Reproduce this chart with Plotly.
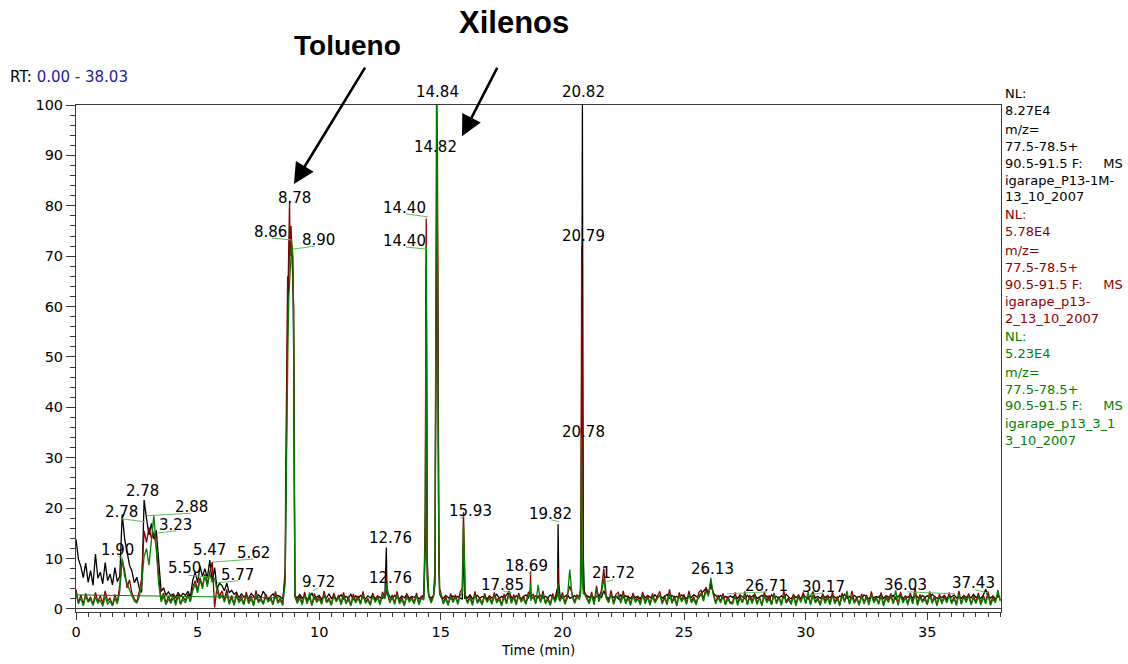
import plotly.graph_objects as go

# ---------------- data ----------------
# retention-time sampling grid (min), 0.1 min steps from 0.0 to 38.0
RT_BASE = [round(i * 0.1, 1) for i in range(381)]

BLACK_BASE = [
    13.8, 9.9, 8.4, 6.2, 9.1, 5.3, 7.6, 4.7, 10.9, 6.1,
    7.3, 5.0, 9.2, 5.6, 6.9, 4.8, 8.2, 5.4, 6.5, 18.8,
    13.9, 11.2, 8.7, 7.5, 5.2, 6.3, 4.1, 3.3, 21.6, 17.9,
    14.7, 17.0, 13.9, 15.6, 9.1, 3.5, 4.2, 2.7, 3.4, 2.6,
    3.0, 2.3, 3.2, 2.5, 3.1, 2.7, 3.5, 2.4, 5.7, 7.3,
    5.2, 8.5, 6.4, 8.0, 6.1, 9.7, 5.3, 8.2, 4.0, 5.1,
    4.7, 3.6, 5.1, 3.2, 3.7, 2.9, 3.3, 2.2, 3.0, 2.4,
    2.7, 2.1, 3.1, 2.5, 2.0, 2.8, 2.3, 3.5, 2.6, 1.9,
    2.5, 3.0, 2.2, 2.7, 2.4, 2.0, 6.0, 55.0, 72.0, 70.0,
    2.5, 2.2, 2.9, 2.1, 2.6, 1.8, 2.4, 3.1, 2.0, 2.3,
    2.7, 1.9, 2.5, 2.2, 3.0, 2.1, 2.6, 1.8, 2.4, 2.8,
    2.0, 2.5, 2.2, 2.9, 1.9, 2.6, 2.1, 2.7, 2.3, 2.0,
    2.6, 2.2, 2.8, 2.0, 2.5, 2.3, 2.1, 2.6, 3.5, 2.4,
    2.1, 2.7, 2.3, 2.0, 2.6, 2.2, 2.9, 2.1, 2.5, 2.3,
    2.6, 2.0, 2.4, 2.8, 68.0, 2.5, 2.2, 2.6, 60.0, 20.0,
    2.4, 2.1, 2.7, 2.3, 2.0, 2.6, 2.2, 2.5, 2.1, 5.0,
    2.5, 2.2, 2.8, 2.0, 2.4, 2.7, 2.1, 2.5, 2.3, 2.0,
    2.6, 2.2, 2.4, 2.9, 2.1, 2.5, 2.2, 2.7, 3.4, 2.3,
    2.1, 2.6, 2.3, 2.0, 2.5, 2.8, 2.2, 2.4, 2.1, 2.6,
    2.3, 2.7, 2.1, 2.5, 2.2, 2.8, 2.4, 2.0, 3.0, 2.6,
    2.2, 2.5, 2.9, 2.1, 2.4, 2.6, 2.3, 2.5, 80.0, 3.0,
    2.6, 2.3, 2.8, 2.1, 2.5, 2.9, 2.2, 3.6, 2.4, 2.1,
    2.7, 2.3, 2.5, 2.0, 2.8, 2.2, 2.6, 2.4, 2.1, 2.7,
    2.3, 2.5, 2.0, 2.9, 2.2, 2.6, 2.4, 2.1, 2.8, 2.3,
    2.6, 2.2, 2.4, 2.9, 2.1, 2.7, 2.3, 2.5, 2.2, 2.8,
    2.4, 2.1, 2.6, 2.3, 2.8, 2.5, 2.2, 3.0, 3.6, 4.1,
    2.8, 5.3, 3.1, 2.6, 2.3, 2.7, 2.1, 2.5, 2.2, 2.6,
    2.3, 2.6, 2.1, 2.8, 2.4, 2.0, 2.7, 2.2, 2.5, 2.9,
    2.1, 2.4, 2.7, 2.2, 2.6, 2.0, 2.8, 2.3, 2.5, 2.1,
    2.6, 2.2, 2.9, 2.4, 2.0, 2.7, 2.3, 2.5, 2.1, 2.8,
    2.4, 2.0, 2.6, 3.3, 2.2, 2.5, 2.1, 2.7, 2.3, 2.6,
    2.2, 2.8, 2.4, 2.0, 2.6, 2.3, 2.9, 2.1, 2.5, 2.2,
    2.7, 2.3, 2.5, 2.1, 2.8, 2.4, 2.0, 2.6, 2.2, 2.5,
    2.3, 2.9, 2.1, 2.6, 2.4, 2.2, 2.7, 2.0, 2.5, 2.8,
    2.1, 2.5, 2.3, 2.8, 2.2, 2.6, 2.4, 2.0, 2.7, 2.3,
    2.6, 2.2, 2.9, 2.4, 2.1, 2.5, 2.3, 2.7, 2.0, 2.6,
    2.4, 2.8, 2.2, 2.5, 2.1, 2.7, 2.3, 2.6, 2.2, 2.9,
    2.3, 2.5, 2.1, 2.7, 3.9, 2.4, 2.2, 2.6, 2.0, 2.5,
    2.4,
]

RED_BASE = [
    3.9, 1.2, 2.8, 0.9, 3.1, 1.6, 2.4, 0.8, 3.3, 1.4,
    2.7, 1.0, 3.6, 1.5, 2.2, 0.7, 2.9, 1.3, 4.8, 9.8,
    7.6, 4.2, 5.8, 3.1, 2.0, 1.4, 3.5, 6.0, 15.5, 13.2,
    16.2, 14.0, 15.1, 12.3, 6.5, 1.8, 3.2, 1.1, 2.6, 1.5,
    2.9, 1.2, 3.3, 0.9, 2.4, 1.7, 3.0, 1.4, 4.3, 5.6,
    3.8, 6.2, 4.5, 6.9, 5.1, 7.4, 9.3, 0.3, 4.6, 2.5,
    3.6, 1.8, 3.9, 1.2, 2.7, 0.9, 3.2, 1.6, 2.5, 1.0,
    3.4, 1.3, 2.6, 0.8, 3.7, 1.5, 2.2, 1.1, 3.0, 1.7,
    2.4, 1.0, 3.5, 1.4, 2.1, 0.9, 8.0, 66.0, 70.0, 71.0,
    3.0, 1.5, 2.7, 1.0, 3.4, 1.2, 2.3, 0.8, 3.1, 1.6,
    2.5, 1.1, 3.6, 1.4, 2.2, 0.9, 3.2, 1.7, 2.8, 1.0,
    3.3, 1.2, 2.4, 0.8, 3.0, 1.5, 2.6, 1.1, 3.5, 1.3,
    2.1, 0.9, 3.2, 1.6, 2.7, 1.0, 3.4, 2.2, 3.0, 1.4,
    2.8, 1.1, 3.5, 1.3, 2.3, 0.8, 3.1, 1.7, 2.5, 1.2,
    3.2, 1.0, 2.6, 2.0, 77.5, 3.0, 1.5, 2.9, 70.0, 30.0,
    3.3, 1.2, 2.5, 0.9, 3.1, 1.6, 2.8, 1.1, 3.4, 8.0,
    3.0, 1.3, 2.7, 0.9, 3.5, 1.4, 2.2, 1.0, 3.1, 1.6,
    2.6, 1.1, 3.3, 1.5, 2.4, 0.8, 3.0, 1.2, 3.6, 1.4,
    2.9, 1.0, 3.2, 1.7, 2.5, 1.1, 3.4, 2.0, 3.0, 1.3,
    2.7, 1.5, 3.6, 1.2, 2.3, 0.9, 3.1, 1.6, 3.5, 1.8,
    3.3, 1.1, 2.6, 4.5, 3.0, 1.4, 2.8, 2.4, 60.0, 3.5,
    2.5, 1.3, 3.4, 1.0, 4.6, 1.7, 3.8, 8.0, 2.6, 1.5,
    3.7, 1.1, 2.9, 3.3, 1.4, 3.6, 1.2, 2.7, 0.9, 3.2,
    1.6, 2.5, 1.0, 3.4, 1.3, 2.8, 0.9, 3.1, 1.5, 2.4,
    3.5, 1.2, 2.7, 1.0, 3.9, 1.4, 2.6, 0.8, 3.3, 1.7,
    2.9, 1.1, 3.6, 1.5, 2.4, 1.0, 3.2, 3.8, 1.9, 4.3,
    3.2, 4.4, 3.4, 1.2, 2.8, 1.5, 3.1, 1.0, 2.5, 1.3,
    1.4, 3.3, 1.0, 2.6, 1.2, 3.5, 0.9, 2.8, 1.5, 3.1,
    1.1, 2.4, 0.8, 3.4, 1.6, 2.7, 1.0, 3.2, 1.3, 2.5,
    0.9, 3.6, 1.4, 2.3, 1.1, 3.0, 0.8, 2.9, 1.7, 3.3,
    1.2, 2.6, 1.0, 3.5, 1.4, 2.2, 0.9, 3.1, 1.5, 2.8,
    1.0, 3.4, 1.3, 2.5, 0.8, 3.2, 1.6, 2.7, 1.1, 3.6,
    1.4, 2.3, 0.9, 3.0, 1.2, 2.8, 1.0, 3.5, 1.5, 2.4,
    1.1, 3.3, 0.8, 2.6, 1.7, 3.1, 1.2, 2.5, 0.9, 3.4,
    1.5, 2.7, 1.0, 3.2, 1.3, 4.2, 0.9, 2.9, 1.6, 2.3,
    1.0, 3.5, 1.4, 2.6, 0.8, 3.0, 1.2, 2.8, 1.5, 3.3,
    1.3, 2.4, 0.9, 3.6, 1.1, 2.7, 1.6, 3.1, 1.0, 2.5,
    1.4, 3.2, 1.0, 2.8, 1.3, 3.5, 0.9, 2.6, 1.5, 3.0,
    1.8,
]

GREEN_BASE = [
    2.9, 1.0, 2.2, 0.6, 2.6, 1.3, 1.9, 0.7, 2.4, 1.1,
    1.8, 0.5, 2.5, 0.9, 1.6, 0.6, 2.1, 1.0, 3.5, 10.0,
    6.5, 5.0, 3.8, 2.6, 1.5, 1.2, 2.4, 4.8, 10.5, 12.0,
    8.7, 13.5, 18.6, 11.8, 5.0, 1.4, 2.5, 0.8, 2.0, 1.1,
    2.3, 0.7, 2.6, 1.0, 1.9, 1.2, 2.7, 1.5, 3.6, 4.9,
    3.2, 5.8, 4.0, 6.8, 4.4, 7.0, 5.5, 6.1, 3.5, 2.0,
    2.8, 1.3, 3.0, 0.9, 2.2, 0.7, 2.6, 1.2, 2.0, 0.8,
    2.7, 1.0, 2.1, 0.6, 2.9, 1.2, 1.8, 0.9, 2.4, 1.4,
    1.9, 0.8, 2.8, 1.1, 1.7, 0.7, 5.0, 50.0, 66.0, 72.0,
    2.4, 1.1, 2.2, 0.8, 2.7, 1.0, 3.3, 0.6, 2.5, 1.3,
    2.0, 0.9, 2.9, 1.2, 1.8, 0.7, 2.6, 1.4, 2.3, 0.8,
    2.7, 1.0, 1.9, 0.6, 2.4, 1.2, 2.1, 0.9, 2.8, 1.1,
    1.7, 0.7, 2.6, 1.3, 2.2, 0.8, 2.8, 2.0, 4.2, 1.2,
    2.3, 0.9, 2.8, 1.0, 1.9, 0.6, 2.5, 1.4, 2.0, 1.0,
    2.6, 0.8, 2.1, 1.8, 72.0, 2.6, 1.2, 2.4, 80.0, 22.0,
    2.7, 1.0, 2.0, 0.7, 2.5, 1.3, 2.3, 0.9, 2.8, 7.0,
    2.4, 1.1, 2.2, 0.7, 2.9, 1.1, 1.8, 0.8, 2.5, 1.3,
    2.1, 0.9, 2.7, 1.2, 1.9, 0.6, 2.4, 1.0, 2.9, 1.1,
    2.3, 0.8, 2.6, 1.4, 2.0, 0.9, 2.8, 1.6, 2.4, 1.0,
    4.8, 1.2, 2.9, 1.0, 1.8, 0.7, 2.5, 1.3, 2.6, 1.5,
    2.7, 0.9, 2.1, 7.8, 2.4, 1.1, 2.3, 1.9, 18.0, 3.0,
    2.0, 1.0, 2.8, 0.8, 3.9, 1.4, 3.1, 6.0, 2.1, 1.2,
    3.0, 0.9, 2.3, 2.7, 1.1, 2.9, 1.0, 2.2, 0.7, 2.6,
    1.3, 2.0, 0.8, 2.8, 1.0, 2.3, 0.7, 2.5, 1.2, 1.9,
    2.8, 1.0, 2.2, 0.8, 3.2, 1.1, 2.1, 0.6, 2.7, 1.4,
    2.3, 0.9, 2.9, 1.2, 1.9, 0.8, 2.6, 3.1, 1.5, 3.6,
    2.5, 6.2, 2.8, 1.0, 2.3, 1.2, 2.5, 0.8, 2.0, 1.1,
    1.0, 2.6, 0.7, 2.1, 1.3, 2.8, 0.8, 2.3, 1.1, 2.5,
    0.9, 2.2, 0.6, 2.7, 1.2, 2.0, 0.8, 2.9, 1.0, 2.3,
    0.7, 2.8, 1.1, 1.9, 0.9, 2.5, 0.6, 2.4, 1.3, 2.7,
    1.0, 3.4, 0.8, 2.6, 1.2, 1.9, 0.7, 2.5, 1.1, 2.2,
    0.8, 2.7, 1.0, 2.0, 0.6, 2.6, 1.3, 3.6, 0.9, 2.4,
    1.1, 2.0, 0.7, 2.5, 1.0, 2.3, 0.8, 2.8, 1.2, 2.1,
    0.9, 2.6, 0.6, 2.2, 1.3, 2.5, 1.0, 3.7, 0.7, 2.7,
    1.2, 2.3, 0.8, 2.6, 1.0, 3.0, 0.7, 2.4, 1.3, 2.0,
    0.8, 2.8, 1.1, 2.2, 0.6, 2.5, 1.0, 2.3, 1.2, 2.7,
    1.0, 2.1, 0.7, 2.9, 0.9, 2.4, 1.3, 2.6, 0.8, 2.2,
    1.1, 2.5, 0.8, 2.3, 1.0, 2.8, 0.7, 2.1, 1.2, 3.8,
    1.5,
]

# extra samples across the sharp peaks (min)
FINE_RT = [8.62, 8.65, 8.68, 8.72, 8.75, 8.78, 8.82, 8.84, 8.86, 8.88, 8.92, 8.95, 8.98,
           12.74, 12.76, 12.78,
           14.36, 14.38, 14.42, 14.44,
           14.76, 14.78, 14.82, 14.84, 14.86, 14.88, 14.92, 14.95,
           15.88, 15.91, 15.93, 15.95, 15.98,
           18.67, 18.69, 18.72,
           19.78, 19.82, 19.85,
           20.74, 20.77, 20.78, 20.79, 20.81, 20.82, 20.84, 20.86]

BLACK_FINE = [20, 38, 48, 62, 70, 74, 75, 73, 70, 72, 66, 50, 20,
              9, 12.2, 4,
              12, 45, 35, 6,
              5, 30, 82, 85, 75, 45, 8, 3,
              2, 9, 12, 9, 2,
              3, 4, 2.5,
              4, 16.8, 5,
              3, 8, 20, 45, 95, 100, 50, 10]

RED_FINE = [25, 45, 55, 64, 72, 81, 74, 76, 73, 70, 68, 60, 25,
            3, 6.5, 3,
            20, 55, 45, 10,
            8, 35, 95, 100, 90, 55, 12, 4,
            4, 14, 19.2, 15, 4,
            3, 7.5, 2.5,
            3, 8.2, 2.5,
            4, 25, 50, 72, 40, 25, 8, 4]

GREEN_FINE = [15, 30, 42, 55, 62, 64, 68, 70, 73, 71, 70, 55, 18,
              3, 5, 4,
              15, 50, 40, 8,
              6, 40, 100, 96, 80, 45, 8, 3,
              3, 12, 17, 13, 3,
              2.5, 5.2, 2,
              2.5, 5.0, 2,
              3, 15, 34, 28, 10, 6, 4, 3]

# green trace baseline segment drawn by the software (RT, abundance pairs)
GREEN_BASELINE_X = [0.0, 8.55]
GREEN_BASELINE_Y = [2.8, 2.2]

# peak labels: text, RT position, relative-abundance position
PEAK_TEXT = ["8.78", "8.86", "8.90", "14.40", "14.40", "14.84", "14.82", "20.82", "20.79", "20.78",
             "2.78", "2.78", "2.88", "3.23", "1.90", "5.47", "5.62", "5.50", "5.77", "9.72",
             "12.76", "12.76", "15.93", "17.85", "18.69", "19.82", "21.72", "26.13", "26.71",
             "30.17", "36.03", "37.43"]
PEAK_X = [9.00, 7.98, 9.99, 13.49, 13.49, 14.88, 14.80, 20.85, 20.85, 20.85,
          2.75, 1.85, 4.73, 4.11, 1.69, 5.47, 7.28, 4.48, 6.66, 9.95,
          12.91, 12.91, 16.20, 17.52, 18.54, 19.49, 22.08, 26.15, 28.37,
          30.72, 34.09, 36.88]
PEAK_Y = [81.5, 74.8, 73.2, 79.6, 73.0, 102.6, 91.7, 102.6, 74.0, 35.1,
          23.4, 19.2, 20.2, 16.7, 11.7, 11.7, 11.1, 8.1, 6.7, 5.4,
          14.1, 6.2, 19.4, 4.8, 8.5, 18.8, 7.1, 7.9, 4.6,
          4.4, 4.8, 5.2]

# green leader ticks (x0, y0, x1, y1)
LEADERS = [(8.06, 73.6, 8.92, 73.2), (8.92, 71.4, 9.83, 72.0),
           (13.57, 78.4, 14.47, 77.8), (13.57, 71.8, 14.43, 71.4),
           (1.89, 17.9, 2.80, 17.3), (2.92, 18.5, 4.73, 19.0), (3.37, 15.1, 4.11, 15.5),
           (1.73, 10.5, 1.93, 10.1), (5.63, 9.3, 7.28, 9.9), (4.61, 6.7, 5.51, 6.3),
           (5.80, 5.2, 6.66, 5.6), (9.75, 3.6, 9.95, 4.2), (26.77, 3.0, 28.41, 3.4),
           (30.18, 2.8, 30.72, 3.2), (34.17, 3.4, 36.14, 3.0), (36.97, 3.8, 37.50, 3.2),
           (17.56, 3.6, 17.93, 3.2), (19.53, 17.7, 19.86, 17.3), (21.83, 5.4, 22.08, 5.8),
           (15.80, 18.0, 15.97, 18.4), (18.60, 7.2, 18.72, 6.8)]

INFO_BLACK = ["NL:", "8.27E4", "m/z=", "77.5-78.5+", "90.5-91.5 F:&nbsp;&nbsp;&nbsp;&nbsp;&nbsp;MS",
              "igarape_P13-1M-", "13_10_2007"]
INFO_RED = ["NL:", "5.78E4", "m/z=", "77.5-78.5+", "90.5-91.5 F:&nbsp;&nbsp;&nbsp;&nbsp;&nbsp;MS",
            "igarape_p13-", "2_13_10_2007"]
INFO_GREEN = ["NL:", "5.23E4", "m/z=", "77.5-78.5+", "90.5-91.5 F:&nbsp;&nbsp;&nbsp;&nbsp;&nbsp;MS",
              "igarape_p13_3_1", "3_10_2007"]

C_BLACK = "#000000"
C_RED = "#8b0000"
C_GREEN = "#008000"
FONT = "DejaVu Sans"
Y_MIN, Y_MAX = -0.6, 100


def build(base, fine):
    pts = sorted(zip(RT_BASE + FINE_RT, base + fine))
    return [p[0] for p in pts], [p[1] for p in pts]


fig = go.Figure()
for base, fine, col in [(BLACK_BASE, BLACK_FINE, C_BLACK),
                        (RED_BASE, RED_FINE, C_RED),
                        (GREEN_BASE, GREEN_FINE, C_GREEN)]:
    xs, ys = build(base, fine)
    fig.add_trace(go.Scatter(x=xs, y=ys, mode="lines",
                             line=dict(color=col, width=1.3),
                             hoverinfo="skip", showlegend=False))
fig.add_trace(go.Scatter(x=GREEN_BASELINE_X, y=GREEN_BASELINE_Y, mode="lines",
                         line=dict(color=C_GREEN, width=1), hoverinfo="skip", showlegend=False))

shapes = []
for (x0, y0, x1, y1) in LEADERS:
    shapes.append(dict(type="line", xref="x", yref="y", x0=x0, y0=y0, x1=x1, y1=y1,
                       line=dict(color="#5cbf5c", width=1)))

ann = []
for t, x, y in zip(PEAK_TEXT, PEAK_X, PEAK_Y):
    if y > Y_MAX:
        yref, yy = "paper", (y - Y_MIN) / (Y_MAX - Y_MIN)
    else:
        yref, yy = "y", y
    ann.append(dict(x=x, y=yy, xref="x", yref=yref, text=t, showarrow=False,
                    font=dict(family=FONT, size=15, color="black"),
                    xanchor="center", yanchor="middle"))

# header and compound labels
ann.append(dict(x=-0.0735, y=1.055, xref="paper", yref="paper", xanchor="left", yanchor="middle",
                text="RT: <span style='color:#1c1ca8'>0.00 - 38.03</span>", showarrow=False,
                font=dict(family=FONT, size=15, color="black")))
ann.append(dict(x=0.294, y=1.118, xref="paper", yref="paper", text="<b>Tolueno</b>", showarrow=False,
                font=dict(family="Liberation Sans", size=28, color="black"),
                xanchor="center", yanchor="middle"))
ann.append(dict(x=0.4735, y=1.163, xref="paper", yref="paper", text="<b>Xilenos</b>", showarrow=False,
                font=dict(family="Liberation Sans", size=31, color="black"),
                xanchor="center", yanchor="middle"))
ann.append(dict(x=8.96, y=84.3, xref="x", yref="y", text="", showarrow=True,
                ax=72, ay=-118, arrowhead=2, arrowsize=1.6, arrowwidth=2.6, arrowcolor="black"))
ann.append(dict(x=15.87, y=93.8, xref="x", yref="y", text="", showarrow=True,
                ax=36, ay=-70, arrowhead=2, arrowsize=1.6, arrowwidth=2.6, arrowcolor="black"))
ann.append(dict(x=0.4995, y=-0.075, xref="paper", yref="paper", text="Time (min)",
                showarrow=False, font=dict(family=FONT, size=13.5, color="black"),
                xanchor="center", yanchor="middle"))

# right-hand trace information
INFO_Y = [[93, 110, 129, 146, 163, 180, 196],
          [214, 231, 250, 267, 284, 301, 318],
          [336, 353, 372, 389, 406, 423, 440]]
for lines, ys, col in [(INFO_BLACK, INFO_Y[0], C_BLACK),
                       (INFO_RED, INFO_Y[1], C_RED),
                       (INFO_GREEN, INFO_Y[2], C_GREEN)]:
    for txt, py in zip(lines, ys):
        ann.append(dict(x=(1003 - 76) / 925, y=(612 - py) / 507, xref="paper", yref="paper",
                        text=txt, showarrow=False, xanchor="left", yanchor="middle",
                        font=dict(family=FONT, size=13, color=col)))

axis_col = "#3a3a3a"
fig.update_layout(
    width=1128, height=664,
    margin=dict(l=76, r=127, t=105, b=52),
    paper_bgcolor="white", plot_bgcolor="white",
    showlegend=False,
    shapes=shapes,
    annotations=ann,
    xaxis=dict(range=[0, 38.03], tickmode="linear", tick0=0, dtick=5,
               ticks="outside", ticklen=7, tickcolor=axis_col, tickwidth=1,
               showline=True, linecolor=axis_col, linewidth=1, mirror=True,
               showgrid=False, zeroline=False,
               tickfont=dict(family=FONT, size=14.5, color="black"),
               minor=dict(dtick=0.5, ticks="outside", ticklen=4, tickcolor=axis_col, showgrid=False)),
    yaxis=dict(range=[Y_MIN, Y_MAX], tickmode="linear", tick0=0, dtick=10,
               ticks="outside", ticklen=9, tickcolor=axis_col, tickwidth=1,
               showline=True, linecolor=axis_col, linewidth=1, mirror=True,
               showgrid=False, zeroline=True, zerolinecolor=axis_col, zerolinewidth=1,
               tickfont=dict(family=FONT, size=14.5, color="black"),
               minor=dict(dtick=2, ticks="outside", ticklen=5, tickcolor=axis_col, showgrid=False)),
)

fig.write_html("out.html")
